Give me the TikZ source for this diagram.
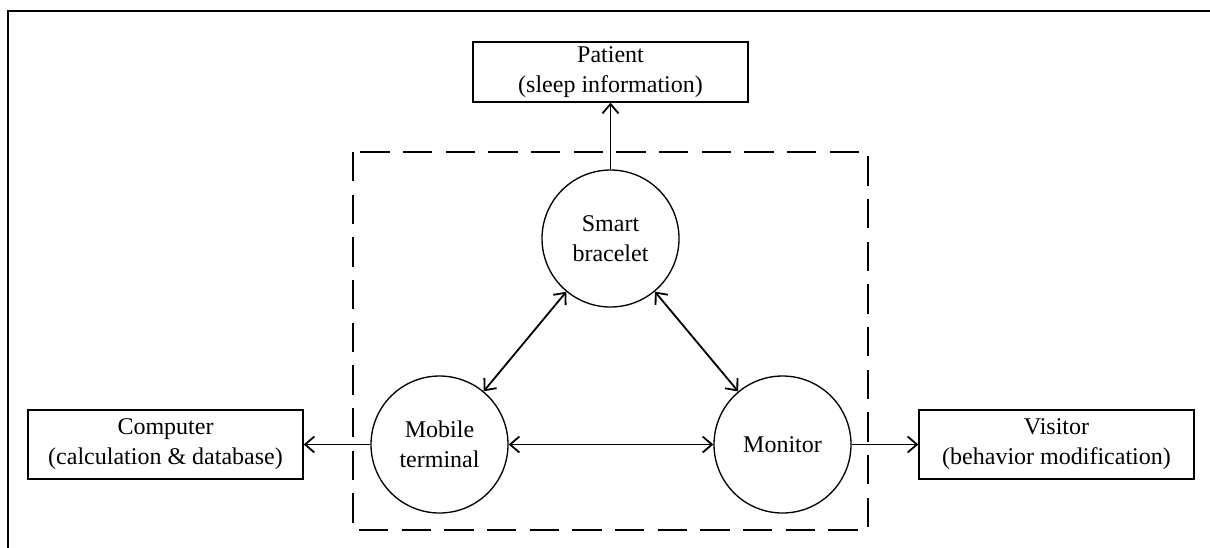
\documentclass[tikz,border=0pt]{standalone}
\usepackage{fontspec}
\setmainfont{Liberation Serif}
\usetikzlibrary{arrows.meta}
\begin{document}
\begin{tikzpicture}[x=0.75pt,y=-0.75pt,
  every node/.style={font=\fontsize{18}{22.5}\selectfont, align=center},
  circ/.style={draw, circle, line width=1pt, minimum size=102.75pt, inner sep=0pt},
  infobox/.style={draw, rectangle, line width=1pt, minimum width=206.25pt, minimum height=51.75pt, inner sep=0pt},
  tip/.style={},
  arr/.style={line width=1.35pt, -{Straight Barb[length=7pt,width=12pt,line width=1.35pt]}},
  darr/.style={line width=1.35pt, {Straight Barb[length=7pt,width=12pt,line width=1.35pt]}-{Straight Barb[length=7pt,width=12pt,line width=1.35pt]}},
  frame/.style={line width=1.6pt},
  region/.style={draw, line width=1pt, dash pattern=on 22pt off 10pt}
]
\useasboundingbox (0,0) rectangle (1210,547);
\draw[frame] (8,550) -- (8,11) -- (1212,11);

\draw[region] (353,152) rectangle (868,530);

\node[infobox, minimum height=45pt] (patient) at (610.5,72) {Patient\\(sleep information)};
\node[infobox] (computer) at (165.5,444.5) {Computer\\(calculation \& database)};
\node[infobox] (visitor) at (1056.5,444.5) {Visitor\\(behavior modification)};

\node[circ] (bracelet) at (610.5,238.5) {Smart\\bracelet};
\node[circ] (mobile) at (439.5,444.5) {Mobile\\terminal};
\node[circ] (monitor) at (782.5,444.5) {Monitor};

\draw[arr] (bracelet) -- (patient);
\draw[arr] (mobile) -- (computer);
\draw[arr] (monitor) -- (visitor);
\draw[darr] (mobile) -- (monitor);
\draw[darr] (bracelet) -- (mobile);
\draw[darr] (bracelet) -- (monitor);
\end{tikzpicture}
\end{document}
